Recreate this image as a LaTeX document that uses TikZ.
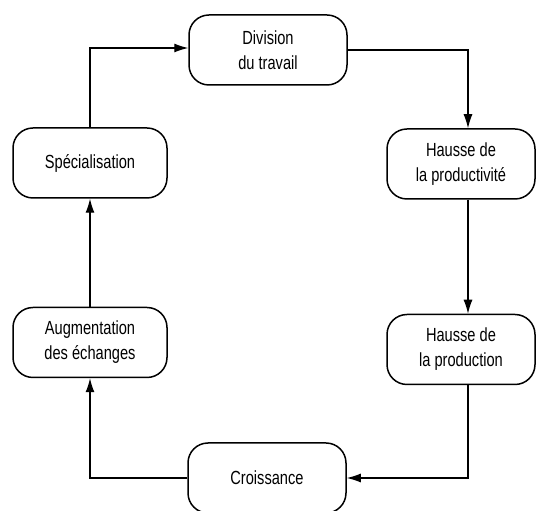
\documentclass[tikz,border=0pt]{standalone}
\usepackage{fontspec}
\setmainfont{Liberation Sans}[FakeStretch=0.77]
\usepackage{tikz}
\usetikzlibrary{arrows.meta, positioning}

\begin{document}
\begin{tikzpicture}[
  x=1pt, y=1pt,
  box/.style={rectangle, draw, line width=1.5pt, rounded corners=20pt, minimum width=154pt, minimum height=70pt, align=center, font=\fontsize{19}{25}\selectfont},
  arrow/.style={-{Latex[length=14pt, width=9pt]}, line width=1.2pt}
]
  \useasboundingbox (0,0) rectangle (536,511);
  \node[box, minimum width=158pt] (div) at (268,461) {Division\\du travail};
  \node[box] (spec) at (90,348) {Spécialisation};
  \node[box, minimum width=148pt] (prodv) at (461,347) {Hausse de\\la productivité};
  \node[box, minimum width=148pt, below=114pt of prodv] (prod) {Hausse de\\la production};
  \node[box, below=108pt of spec] (aug) {Augmentation\\des échanges};
  \node[box, minimum width=158pt] (crois) at (267,33) {Croissance};
  \draw[arrow] (div.east) -| ([xshift=7pt]prodv.north);
  \draw[arrow] ([xshift=7pt]prodv.south) -- ([xshift=7pt]prod.north);
  \draw[arrow] ([xshift=7pt]prod.south) |- (crois.east);
  \draw[arrow] (crois.west) -| (aug.south);
  \draw[arrow] (aug.north) -- (spec.south);
  \draw[arrow] (spec.north) |- ([yshift=2pt]div.west);
\end{tikzpicture}
\end{document}
